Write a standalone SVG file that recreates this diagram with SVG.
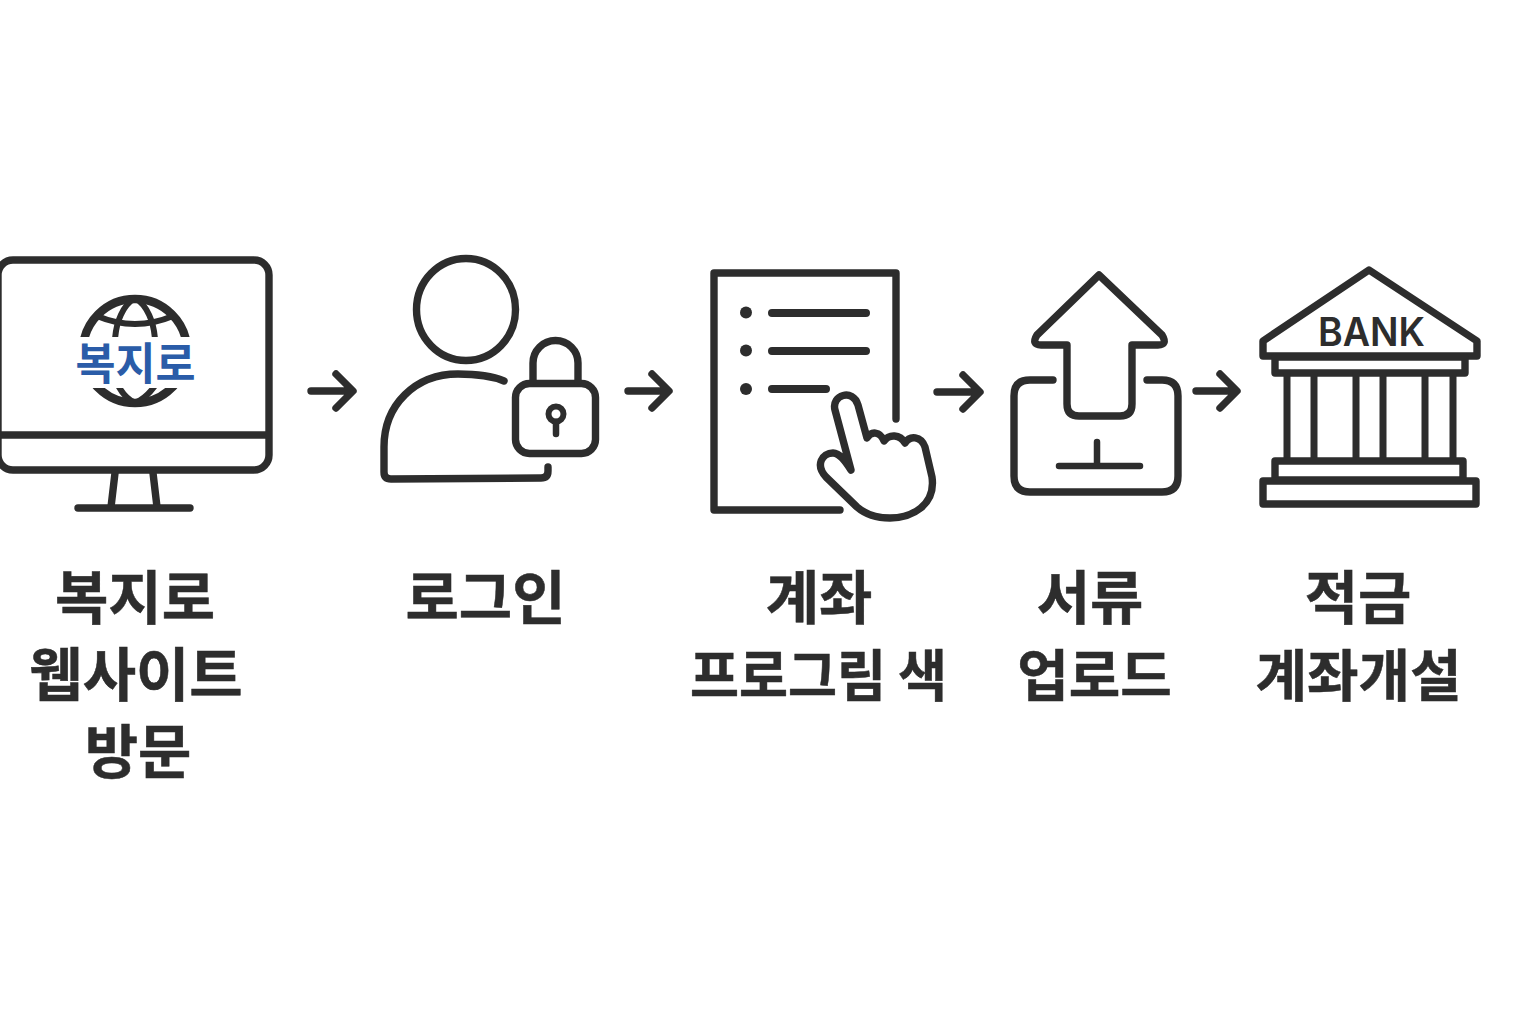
<svg xmlns="http://www.w3.org/2000/svg" width="1536" height="1024" viewBox="0 0 1536 1024">
<style>
.s{fill:none;stroke:#2d2d2d;stroke-width:7.400;stroke-linecap:round;stroke-linejoin:round}
.t{font-family:"Noto Sans CJK KR","Noto Sans",sans-serif;font-weight:700;font-size:58px;fill:#2d2d2d;text-anchor:middle;stroke:#2d2d2d;stroke-width:.5}
.n{font-size:56px}
.d{fill:#2d2d2d}
</style>
<defs>
<clipPath id="gt"><rect x="70" y="280" width="130" height="57"/></clipPath>
<clipPath id="gb"><rect x="70" y="388" width="130" height="30"/></clipPath>
</defs>
<rect width="1536" height="1024" fill="#fff"/>
<g id="connectors">
<path class="s" d="M311 391H352M336 374L353 391L336 408"/>
<path class="s" d="M628 391H668M652 374L669 391L652 408"/>
<path class="s" d="M937 392H978M963 375L980 392L963 409"/>
<path class="s" d="M1196 391H1236M1220 374L1237 391L1220 408"/>
</g>
<g id="node-website">
<rect class="s" x="-2" y="260" width="271" height="210" rx="15"/>
<path class="s" style="stroke-linecap:butt" d="M-2 435H269"/>
<path class="s" d="M115 473L111 507M153 473L157 507"/>
<path class="s" d="M78 508H190"/>
<g clip-path="url(#gt)">
<circle cx="135" cy="351" r="52" class="s" style="stroke-width:8.500"/>
<path class="s" style="stroke-width:6;stroke-linecap:butt" d="M97 316Q135 332 173 316M135 298C123 305 116 322 115 340M135 298C147 305 154 322 155 340"/>
</g>
<g clip-path="url(#gb)">
<circle cx="135" cy="351" r="52" class="s" style="stroke-width:8.500"/>
<path class="s" style="stroke-width:6" d="M119 387Q125 398 135 403Q146 398 154 387"/>
</g>
<text x="135.500" y="380" text-anchor="middle" font-family="'Noto Sans CJK KR',sans-serif" font-size="44" font-weight="700" fill="#2a5ca8" textLength="120" lengthAdjust="spacingAndGlyphs">복지로</text>
<text class="t"><tspan x="135" y="619">복지로</tspan><tspan x="136" y="696">웹사이트</tspan><tspan x="138" y="773">방문</tspan></text>
</g>
<g id="node-login">
<ellipse class="s" cx="466" cy="309.500" rx="49.500" ry="51"/>
<path class="s" d="M504 381C492 376 478 374 458 374C415 374 384 405 384 447V472Q384 479 391 479L541 478Q548 478 548 471V467"/>
<rect class="s" x="515.500" y="383.500" width="80" height="70" rx="14"/>
<path class="s" d="M533 381V363A22.500 22.500 0 0 1 578 363V381"/>
<circle cx="556" cy="414" r="7.500" class="s" style="stroke-width:6"/>
<path class="s" style="stroke-width:6.500" d="M556 422V434"/>
<text class="t" x="485.500" y="619">로그인</text>
</g>
<g id="node-account">
<path class="s" d="M896 419V273H714V510H840"/>
<circle class="d" cx="746" cy="312.500" r="6"/><circle class="d" cx="746" cy="350.500" r="6"/><circle class="d" cx="746" cy="389" r="6"/>
<path class="s" style="stroke-width:8" d="M772 313H866M772 351H866M772 389H826"/>
<path class="s" d="M851 470L835 410C831 395 853 388 858 405L867 438C871 431 880 431 884 441C889 434 900 434 905 443C910 435 921 436 925 447L932 477C936 505 912 518 890 518C875 518 865 514 857 507L826 477C815 465 822 453 833 453C840 453 846 462 851 470Z"/>
<text class="t" x="819" y="619">계좌</text>
<text class="t n" x="818.500" y="696" textLength="257" lengthAdjust="spacingAndGlyphs">프로그림 색</text>
</g>
<g id="node-upload">
<path class="s" d="M1099 275L1162 335Q1168 345 1158 345H1132V404Q1132 416 1120 416H1079Q1067 416 1067 404V345H1041Q1031 345 1037 335Z"/>
<path class="s" d="M1053 380H1030Q1014 380 1014 396V476Q1014 492 1030 492H1162Q1178 492 1178 476V396Q1178 380 1162 380H1147"/>
<path class="s" style="stroke-width:6.500" d="M1059 466H1140M1097 442V466"/>
<text class="t"><tspan x="1090" y="619">서류</tspan></text>
<text class="t n" x="1094.500" y="696">업로드</text>
</g>
<g id="node-bank">
<path class="s" d="M1369 270L1263 341V356H1477V341Z"/>
<rect class="s" x="1275" y="357" width="190" height="16"/>
<path class="s" style="stroke-linecap:butt;stroke-width:7" d="M1287 373V460M1314 373V460M1356 373V460M1383 373V460M1425 373V460M1453 373V460"/>
<rect class="s" x="1275" y="461" width="188" height="19"/>
<rect class="s" x="1263" y="481" width="213" height="23"/>
<text x="1371.500" y="346" text-anchor="middle" font-family="Inter,sans-serif" font-size="40" font-weight="600" fill="#2d2d2d" textLength="107" lengthAdjust="spacingAndGlyphs">BANK</text>
<text class="t" x="1358" y="619">적금</text>
<text class="t n" x="1358.500" y="696">계좌개설</text>
</g>
</svg>
